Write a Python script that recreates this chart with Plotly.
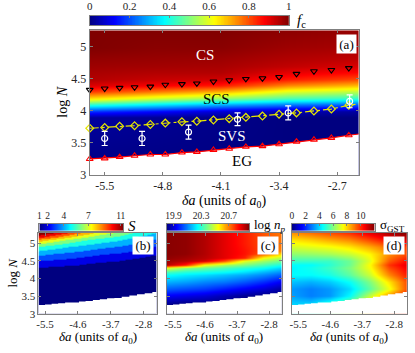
import numpy as np
import plotly.graph_objects as go

W, H = 415, 353
FONT = "Liberation Serif, Times New Roman, Times, serif"

# ---------------- data: panel (a) boundaries ----------------
da_marks = [-5.68, -5.50, -5.32, -5.14, -4.95, -4.77, -4.57, -4.39, -4.19,
            -4.00, -3.80, -3.60, -3.40, -3.19, -2.98, -2.77, -2.56]
cs_logN = [4.33, 4.35, 4.36, 4.37, 4.38, 4.41, 4.42, 4.43, 4.46,
           4.48, 4.50, 4.51, 4.53, 4.58, 4.62, 4.64, 4.67]
svs_logN = [3.73, 3.74, 3.76, 3.77, 3.79, 3.81, 3.83, 3.84, 3.86,
            3.88, 3.90, 3.92, 3.95, 3.97, 4.00, 4.03, 4.09]
eg_logN = [3.25, 3.26, 3.28, 3.30, 3.32, 3.32, 3.35, 3.36, 3.39,
           3.41, 3.44, 3.45, 3.48, 3.52, 3.55, 3.58, 3.62]
da_edge = -2.44
svs_edge = 4.11
eg_edge = 3.64

# simulation points with error bars
da_sim = [-5.50, -5.05, -4.49, -3.90, -3.29, -2.55]
logN_sim = [3.57, 3.57, 3.67, 3.87, 3.97, 4.15]
logN_sim_err = [0.11, 0.11, 0.11, 0.10, 0.11, 0.10]

# ---------------- data: f_c field (a) ----------------
fc_da = [-5.68, -4.9, -4.1, -3.3, -2.44]
fc_logN = [3.0, 3.9, 4.0, 4.1, 4.2, 4.3, 4.4, 4.5, 4.6, 4.7, 4.8, 5.0, 5.3]
fc_values = [
    [0.00, 0.00, 0.00, 0.00, 0.00],
    [0.03, 0.02, 0.01, 0.00, 0.00],
    [0.17, 0.13, 0.08, 0.05, 0.03],
    [0.42, 0.36, 0.30, 0.25, 0.22],
    [0.65, 0.58, 0.52, 0.45, 0.42],
    [0.82, 0.76, 0.70, 0.60, 0.56],
    [0.91, 0.88, 0.85, 0.74, 0.69],
    [0.95, 0.93, 0.92, 0.85, 0.80],
    [0.96, 0.95, 0.95, 0.90, 0.87],
    [0.97, 0.965, 0.96, 0.935, 0.91],
    [0.98, 0.975, 0.97, 0.95, 0.935],
    [1.00, 0.99, 0.99, 0.97, 0.96],
    [1.00, 1.00, 1.00, 0.99, 0.98],
]

# ---------------- data: bottom panels ----------------
grid_da = [-5.68, -5.15, -4.6, -4.05, -3.5, -2.95, -2.44]

S_logN = [3.0, 4.2, 4.3, 4.4, 4.5, 4.6, 4.7, 4.8, 4.9, 5.0, 5.1, 5.2, 5.3]
S_values = [
    [1, 1, 1, 1, 1, 1, 1],
    [1, 1, 1, 1, 1, 1, 1],
    [1.44, 1.21, 1, 1, 1, 1, 1],
    [1.97, 1.76, 1.52, 1.19, 1.0, 1, 1],
    [2.5, 2.26, 1.99, 1.69, 1.52, 1.02, 1],
    [3.12, 2.81, 2.47, 2.15, 1.96, 1.52, 1.14],
    [3.79, 3.4, 3.03, 2.63, 2.39, 1.94, 1.6],
    [4.5, 4.07, 3.61, 3.17, 2.9, 2.36, 2.0],
    [5.33, 4.79, 4.26, 3.75, 3.42, 2.84, 2.42],
    [6.5, 5.63, 4.98, 4.37, 4.0, 3.34, 2.88],
    [8.1, 6.86, 5.85, 5.08, 4.61, 3.89, 3.36],
    [9.9, 8.5, 7.06, 5.96, 5.31, 4.46, 3.89],
    [11.3, 10.22, 8.67, 7.1, 6.26, 5.12, 4.43],
]

np_logN = [3.0, 3.3, 3.5, 3.7, 3.9, 4.1, 4.2, 4.3, 4.4, 4.5, 4.6, 4.7, 4.8, 5.0, 5.3]
np_values = [
    [19.80, 19.80, 19.80, 19.80, 19.80, 19.80, 19.80],
    [19.82, 19.80, 19.80, 19.80, 19.80, 19.80, 19.80],
    [19.94, 19.92, 19.90, 19.86, 19.82, 19.80, 19.80],
    [20.06, 20.04, 20.02, 19.98, 19.94, 19.90, 19.84],
    [20.16, 20.14, 20.11, 20.09, 20.05, 20.00, 19.94],
    [20.26, 20.23, 20.21, 20.18, 20.15, 20.11, 20.06],
    [20.34, 20.30, 20.28, 20.26, 20.22, 20.17, 20.12],
    [20.52, 20.42, 20.38, 20.34, 20.30, 20.26, 20.20],
    [20.94, 20.82, 20.54, 20.45, 20.40, 20.34, 20.28],
    [20.96, 20.94, 20.90, 20.76, 20.52, 20.44, 20.38],
    [20.98, 20.96, 20.93, 20.88, 20.81, 20.54, 20.47],
    [20.99, 20.98, 20.94, 20.88, 20.83, 20.74, 20.59],
    [20.99, 20.98, 20.94, 20.88, 20.83, 20.76, 20.69],
    [20.99, 20.98, 20.94, 20.88, 20.82, 20.76, 20.71],
    [20.99, 20.98, 20.94, 20.88, 20.82, 20.75, 20.71],
]

sg_logN = [3.0, 3.3, 3.5, 3.7, 3.9, 4.1, 4.3, 4.4, 4.5, 4.7, 4.9, 5.1, 5.3]
sg_values = [
    [5.0, 5.0, 6.0, 7.0, 8.4, 9.6, 10.2],
    [4.0, 4.0, 5.0, 6.2, 8.0, 9.6, 10.2],
    [3.4, 3.0, 3.3, 4.5, 6.8, 8.8, 10.2],
    [3.3, 3.0, 3.3, 4.1, 5.6, 7.3, 9.6],
    [3.8, 3.6, 3.9, 4.6, 6.0, 7.8, 9.6],
    [4.5, 4.5, 4.8, 5.6, 6.9, 8.9, 10.2],
    [4.4, 4.7, 5.2, 6.0, 7.4, 9.6, 10.6],
    [4.5, 4.5, 5.0, 5.8, 7.5, 9.9, 10.8],
    [5.2, 5.2, 5.2, 5.8, 7.2, 9.4, 10.4],
    [6.2, 6.3, 6.5, 6.9, 7.6, 8.8, 9.6],
    [7.0, 7.2, 7.4, 7.8, 8.5, 9.3, 9.8],
    [7.8, 8.1, 8.5, 8.9, 9.7, 10.5, 11.0],
    [8.8, 9.2, 9.6, 10.0, 10.8, 11.5, 12.0],
]

# ticks
xt_a = [-5.5, -4.8, -4.1, -3.4, -2.7]
xt_b = [-5.5, -4.6, -3.7, -2.8]
yt = [3, 3.5, 4, 4.5, 5]
cb_a_ticks = [0, 0.2, 0.4, 0.6, 0.8, 1]
cb_b_ticks = [1, 2, 4, 7, 11]
cb_c_ticks = [19.9, 20.3, 20.7]
cb_d_ticks = [0, 2, 4, 6, 8, 10]


# ---------------- helpers ----------------
def px_x(p):
    return p / W


def px_y(p):
    return 1 - p / H


def jet(t):
    r = min(max(1.5 - abs(4 * t - 3), 0), 1)
    g = min(max(1.5 - abs(4 * t - 2), 0), 1)
    b = min(max(1.5 - abs(4 * t - 1), 0), 1)
    return "rgb(%d,%d,%d)" % (round(r * 255), round(g * 255), round(b * 255))


JET = [[s, jet(s)] for s in (0, 0.125, 0.375, 0.625, 0.875, 1.0)]


def stepped(n):
    cs = []
    for k in range(n):
        c = jet(k / (n - 1))
        cs.append([k / n, c])
        cs.append([(k + 1) / n, c])
    return cs


def fmt(v):
    return ("%g" % v)


AX = "#7f7f7f"
TXT = "#262626"


def main_axis(size, **kw):
    d = dict(showline=True, linecolor=AX, linewidth=1, mirror="ticks",
             ticks="inside", ticklen=3, tickcolor=AX, tickwidth=1,
             showgrid=False, zeroline=False,
             tickfont=dict(family=FONT, size=size, color=TXT))
    d.update(kw)
    return d


def cb_xaxis(rng, ticks, size, anchor, x0, x1):
    return dict(domain=[px_x(x0), px_x(x1)], range=rng, anchor=anchor, side="top",
                showline=True, linecolor=AX, linewidth=1, mirror=True,
                ticks="inside", ticklen=2, tickcolor=AX,
                tickvals=ticks, ticktext=[fmt(t) for t in ticks],
                showgrid=False, zeroline=False,
                tickfont=dict(family=FONT, size=size, color=TXT))


def cb_yaxis(anchor, y0, y1):
    return dict(domain=[px_y(y1), px_y(y0)], range=[-0.5, 0.5], anchor=anchor,
                showline=True, linecolor=AX, linewidth=1, mirror=True,
                ticks="", showticklabels=False, showgrid=False, zeroline=False)


fig = go.Figure()

# ---------------- panel (a) ----------------
fig.add_trace(go.Heatmap(x=fc_da, y=fc_logN, z=fc_values, colorscale=JET,
                         zmin=0, zmax=1, zsmooth="best", showscale=False,
                         hoverinfo="skip", xaxis="x", yaxis="y"))
eg_x = da_marks + [da_edge]
eg_y = eg_logN + [eg_edge]
fig.add_trace(go.Scatter(x=eg_x, y=eg_y, mode="lines", fill="tozeroy",
                         fillcolor="white", line=dict(width=0),
                         hoverinfo="skip", xaxis="x", yaxis="y"))
# SVS boundary (yellow dash-dot)
fig.add_trace(go.Scatter(x=da_marks + [da_edge], y=svs_logN + [svs_edge], mode="lines",
                         line=dict(color="#e6e600", width=1.2, dash="dashdot"),
                         xaxis="x", yaxis="y", hoverinfo="skip"))
fig.add_trace(go.Scatter(x=da_marks, y=svs_logN, mode="markers", cliponaxis=False,
                         marker=dict(symbol="diamond-open", size=6, color="#e6e600",
                                     line=dict(width=1.2, color="#e6e600")),
                         xaxis="x", yaxis="y", hoverinfo="skip"))
# EG boundary (red)
fig.add_trace(go.Scatter(x=eg_x, y=eg_y, mode="lines",
                         line=dict(color="#ff0000", width=1.2),
                         xaxis="x", yaxis="y", hoverinfo="skip"))
fig.add_trace(go.Scatter(x=da_marks, y=eg_logN, mode="markers", cliponaxis=False,
                         marker=dict(symbol="triangle-up-open", size=6, color="#ff0000",
                                     line=dict(width=1.1, color="#ff0000")),
                         xaxis="x", yaxis="y", hoverinfo="skip"))
# CS boundary (black triangles)
fig.add_trace(go.Scatter(x=da_marks, y=cs_logN, mode="markers", cliponaxis=False,
                         marker=dict(symbol="triangle-down-open", size=6, color="black",
                                     line=dict(width=1.1, color="black")),
                         xaxis="x", yaxis="y", hoverinfo="skip"))
# simulation points
fig.add_trace(go.Scatter(x=da_sim, y=logN_sim, mode="markers",
                         marker=dict(symbol="circle-open", size=6, color="white",
                                     line=dict(width=1.2, color="white")),
                         error_y=dict(type="data", array=logN_sim_err, color="white",
                                      thickness=1.2, width=3),
                         xaxis="x", yaxis="y", hoverinfo="skip"))

# ---------------- panels (b), (c), (d) ----------------
panels = [
    ("x2", "y2", S_logN, S_values, stepped(11), 0.5, 11.5),
    ("x3", "y3", np_logN, np_values, JET, 19.8, 21.0),
    ("x4", "y4", sg_logN, sg_values, JET, 0, 12),
]
for xa, ya, yy, zz, cs, z0, z1 in panels:
    fig.add_trace(go.Heatmap(x=grid_da, y=yy, z=zz, colorscale=cs, zmin=z0, zmax=z1,
                             zsmooth="best", showscale=False, hoverinfo="skip",
                             xaxis=xa, yaxis=ya))
    fig.add_trace(go.Scatter(x=eg_x, y=eg_y, mode="lines", line_shape="hv",
                             fill="tozeroy", fillcolor="white", line=dict(width=0),
                             hoverinfo="skip", xaxis=xa, yaxis=ya))

# ---------------- colorbars ----------------
cbs = [
    ("x5", "y5", 0, 1),
    ("x6", "y6", 1, 11.3),
    ("x7", "y7", 19.8, 21.0),
    ("x8", "y8", 0, 12),
]
for xa, ya, c0, c1 in cbs:
    vals = list(np.linspace(c0, c1, 256))
    fig.add_trace(go.Heatmap(x=vals, y=[0], z=[vals], colorscale=JET, zmin=c0, zmax=c1,
                             showscale=False, hoverinfo="skip", xaxis=xa, yaxis=ya))

# ---------------- layout ----------------
bx0, bx1 = 237, 320
layout = dict(
    width=W, height=H, margin=dict(l=0, r=0, t=0, b=0),
    paper_bgcolor="white", plot_bgcolor="white", showlegend=False,
    xaxis=main_axis(12, domain=[px_x(88), px_x(361)], range=[-5.68, -2.44], anchor="y",
                    tickvals=xt_a, ticktext=[fmt(v) for v in xt_a]),
    yaxis=main_axis(12, domain=[px_y(178), px_y(30)], range=[3, 5.26], anchor="x",
                    tickvals=yt, ticktext=[fmt(v) for v in yt]),
    xaxis2=main_axis(11, domain=[px_x(36), px_x(156)], range=[-5.68, -2.44], anchor="y2",
                     tickvals=xt_b, ticktext=[fmt(v) for v in xt_b]),
    yaxis2=main_axis(11, domain=[px_y(bx1), px_y(bx0)], range=[3, 5.3], anchor="x2",
                     tickvals=yt, ticktext=[fmt(v) for v in yt]),
    xaxis3=main_axis(11, domain=[px_x(166), px_x(283)], range=[-5.68, -2.44], anchor="y3",
                     tickvals=xt_b, ticktext=[fmt(v) for v in xt_b]),
    yaxis3=main_axis(11, domain=[px_y(bx1), px_y(bx0)], range=[3, 5.3], anchor="x3",
                     tickvals=yt, showticklabels=False),
    xaxis4=main_axis(11, domain=[px_x(293), px_x(410)], range=[-5.68, -2.44], anchor="y4",
                     tickvals=xt_b, ticktext=[fmt(v) for v in xt_b]),
    yaxis4=main_axis(11, domain=[px_y(bx1), px_y(bx0)], range=[3, 5.3], anchor="x4",
                     tickvals=yt, showticklabels=False),
    xaxis5=cb_xaxis([0, 1], cb_a_ticks, 11, "y5", 88, 290),
    yaxis5=cb_yaxis("x5", 15, 25),
    xaxis6=cb_xaxis([1, 11.3], cb_b_ticks, 9.5, "y6", 37, 122),
    yaxis6=cb_yaxis("x6", 228, 235),
    xaxis7=cb_xaxis([19.8, 21.0], cb_c_ticks, 9.5, "y7", 166, 250),
    yaxis7=cb_yaxis("x7", 228, 235),
    xaxis8=cb_xaxis([0, 12], cb_d_ticks, 9.5, "y8", 293, 377),
    yaxis8=cb_yaxis("x8", 228, 235),
)


def ann(text, x, y, size, color="black", xanchor="center", yanchor="middle",
        angle=0, bg=None, w=None, h=None):
    d = dict(text=text, x=px_x(x), y=px_y(y), xref="paper", yref="paper",
             showarrow=False, font=dict(family=FONT, size=size, color=color),
             xanchor=xanchor, yanchor=yanchor, textangle=angle)
    if bg:
        d.update(bgcolor=bg, borderpad=0)
    if w:
        d.update(width=w, height=h)
    return d


xtitle = "<i>δa</i> (units of <i>a</i><sub>0</sub>)"
annotations = [
    ann(xtitle, 224, 205, 14),
    ann("log <i>N</i>", 61, 104, 14, angle=-90),
    ann(xtitle, 96, 344, 13),
    ann(xtitle, 224, 344, 13),
    ann(xtitle, 351, 344, 13),
    ann("log <i>N</i>", 10, 278, 13, angle=-90),
    ann("CS", 205, 55, 15, color="white"),
    ann("SCS", 217, 100, 15),
    ann("SVS", 232, 138, 15, color="white"),
    ann("EG", 243, 164, 15),
    ann("(a)", 348.5, 44, 13, bg="white", w=19, h=18),
    ann("(b)", 142, 250, 13, bg="white", w=20, h=17),
    ann("(c)", 269, 250, 13, bg="white", w=20, h=17),
    ann("(d)", 397, 250, 13, bg="white", w=20, h=17),
    ann("<i>f</i><sub>c</sub>", 296, 20, 15, xanchor="left"),
    ann("<i>S</i>", 125, 230, 15, xanchor="left"),
    ann("log <i>n</i><sub><i>p</i></sub>", 253, 230, 13, xanchor="left"),
    ann("σ<sub>GST</sub>", 380, 230, 13, xanchor="left"),
]
layout["annotations"] = annotations
fig.update_layout(**layout)

fig.write_html("out.html", config={"displayModeBar": False},
               post_script="document.body.style.margin='0';")
